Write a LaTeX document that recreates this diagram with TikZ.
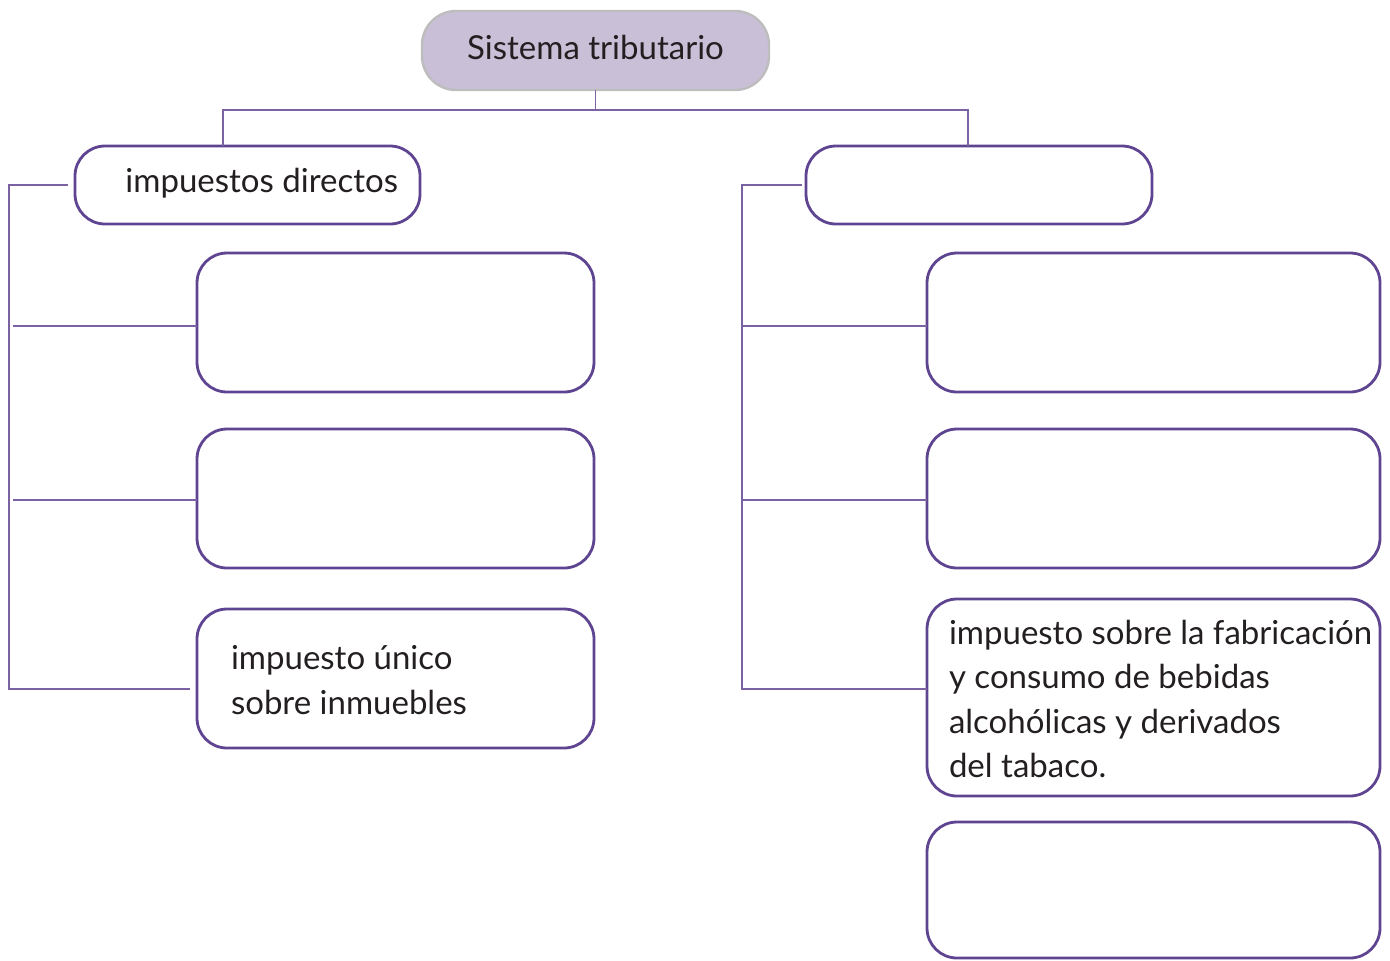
\documentclass[tikz,border=0pt]{standalone}
\usepackage{fontspec}
\setmainfont{Lato}
\definecolor{boxpurple}{HTML}{5E4491}
\definecolor{linepurple}{HTML}{7B62A3}
\definecolor{topfill}{HTML}{C9C0D8}
\definecolor{topborder}{HTML}{BDBDBD}
\definecolor{txt}{HTML}{231F20}
\begin{document}
\begin{tikzpicture}[x=0.5pt,y=-0.5pt,
  box/.style={draw=boxpurple,line width=1.4pt,rounded corners=15pt,minimum height=69.5pt,outer sep=0pt},
  label/.style={font=\fontsize{16.5pt}{22.25pt}\selectfont,text=txt,inner sep=0pt,outer sep=0pt},
  topbox/.style={draw=topborder,fill=topfill,line width=1.2pt,rounded corners=17pt,minimum width=173.5pt,minimum height=39.5pt,outer sep=0pt},
  link/.style={draw=linepurple,line width=0.8pt}]
\useasboundingbox (0,0) rectangle (1390,960);
% top
\node[topbox] (top) at (595.5,50.5) {};
\node[label] (topt) at (595.5,47) {Sistema tributario};
% level 2
\node[box,minimum width=172.5pt,minimum height=39pt] (dir) at (247.5,185) {};
\node[label,anchor=east] (dirt) at ([xshift=-11pt,yshift=1pt]dir.east) {impuestos directos};
\node[box,minimum width=173pt,minimum height=39pt] (ind) at (979,185) {};
% left boxes
\node[box,minimum width=198.5pt] (l1) at (395.5,322.5) {};
\node[box,minimum width=198.5pt] (l2) at (395.5,498.5) {};
\node[box,minimum width=198.5pt] (l3) at (395.5,678.5) {};
\node[label,anchor=west,align=left] (l3t) at (231,680) {impuesto único\\sobre inmuebles};
% right boxes
\node[box,minimum width=226.5pt] (r1) at (1153.5,322.5) {};
\node[box,minimum width=226.5pt] (r2) at (1153.5,498.5) {};
\node[box,minimum width=226.5pt,minimum height=98.5pt] (r3) at (1153.5,697.5) {};
\node[label,anchor=west,align=left] (r3t) at (949,699) {impuesto sobre la fabricación\\y consumo de bebidas\\alcohólicas y derivados\\del tabaco.};
\node[box,minimum width=226.5pt,minimum height=68pt] (r4) at (1153.5,890) {};
% tree connectors
\coordinate (split) at (595.5,110);
\draw[link] (top.south) -- (split);
\draw[link] (split) -| (dir.north -| 223,0);
\draw[link] (split) -| (ind.north -| 968,0);
% left bracket
\coordinate (lstart) at (68,185);
\coordinate (ltop) at (9,185);
\coordinate (lbot) at (9,689);
\coordinate (l3in) at (190,689);
\draw[link] (lstart) -- (ltop) -- (lbot) -- (l3in);
\draw[link] (13,326) -- (l1.west |- 0,326);
\draw[link] (13,500) -- (l2.west |- 0,500);
% right bracket
\coordinate (rstart) at (802,185);
\coordinate (rtop) at (742,185);
\coordinate (rbot) at (742,689);
\draw[link] (rstart) -- (rtop) -- (rbot) -- (r3.west |- 0,689);
\draw[link] (742,326) -- (r1.west |- 0,326);
\draw[link] (742,500) -- (r2.west |- 0,500);
\end{tikzpicture}
\end{document}
